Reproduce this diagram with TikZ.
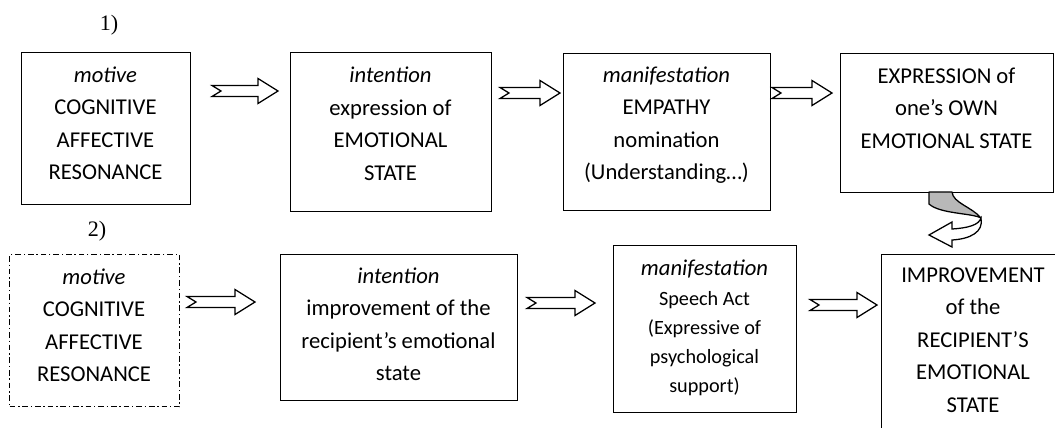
\documentclass[tikz,border=0pt]{standalone}
\usepackage{fontspec}
\setmainfont{Carlito}
\newfontfamily\timesf{Liberation Serif}
\usetikzlibrary{calc}
\newcommand\blockarrow[2]{%
  \draw[barrow] ($(#1)+(0,-5.5)$) -- ($(#2)+(-20,-5.5)$) -- ($(#2)+(-20,-12.5)$) -- (#2)
    -- ($(#2)+(-20,12.5)$) -- ($(#2)+(-20,5.5)$) -- ($(#1)+(0,5.5)$) -- ($(#1)+(9,0)$) -- cycle;}
\begin{document}
\begin{tikzpicture}[x=0.025cm,y=-0.025cm,
  box/.style={draw, line width=1pt, rectangle, inner sep=0pt, anchor=north west},
  dbox/.style={box, dash pattern=on 4pt off 2pt on 1pt off 2pt},
  txt/.style={align=center, anchor=base, inner sep=0pt, font=\fontsize{16.1}{23.1}\selectfont},
  stxt/.style={align=center, anchor=base, inner sep=0pt, font=\fontsize{14.4}{20.6}\selectfont},
  barrow/.style={draw, line width=0.9pt, fill=white, line join=miter},
  lbl/.style={font=\timesf\fontsize{15.7}{18}\selectfont, anchor=base, inner sep=0pt}]
\useasboundingbox (0,0) rectangle (1055,428);
\clip (0,0) rectangle (1055,428);
% labels
\node[lbl] (l1) at (109,30) {1)};
\node[lbl] (l2) at (97,236) {2)};
% row 1 boxes
\node[box, minimum width=4.225cm, minimum height=3.8cm] (b1) at (21,52) {};
\node[box, minimum width=5.025cm, minimum height=3.975cm] (b2) at (290,52) {};
\node[box, minimum width=5.175cm, minimum height=3.925cm] (b3) at (563,53) {};
\node[box, minimum width=5.325cm, minimum height=3.475cm] (b4) at (840,53) {};
% (anchor base = baseline of the last line)
\node[txt] (t1) at (105.5,179.5) {\textit{motive}\\COGNITIVE\\AFFECTIVE\\RESONANCE};
\node[txt] (t2) at (390.5,180) {\textit{intention}\\expression of\\EMOTIONAL\\STATE};
\node[txt] (t3) at (666.5,179.5) {\textit{manifestation}\\EMPATHY\\nomination\\(Understanding…)};
\node[txt] (t4) at (946.5,148) {EXPRESSION of\\one’s OWN\\EMOTIONAL STATE};
% row 2 boxes
\node[dbox, minimum width=4.25cm, minimum height=3.8cm] (c1) at (9,254) {};
\node[box, minimum width=5.925cm, minimum height=3.65cm] (c2) at (280,254) {};
\node[box, minimum width=4.575cm, minimum height=4.175cm] (c3) at (613,245) {};
\node[box, minimum width=5cm, minimum height=5cm] (c4) at (881,254) {};
\node[txt] (u1) at (94,381.5) {\textit{motive}\\COGNITIVE\\AFFECTIVE\\RESONANCE};
\node[txt] (u2) at (398.5,380.5) {\textit{intention}\\improvement of the\\recipient’s emotional\\state};
\node[txt] (u3h) at (704.5,275) {\textit{manifestation}};
\node[stxt] (u3) at (704.5,392) {Speech Act\\(Expressive of\\psychological\\support)};
\node[txt] (u4) at (973,412) {IMPROVEMENT\\of the\\RECIPIENT’S\\EMOTIONAL\\STATE};
% arrow end points
\coordinate (a1s) at (212,91);  \coordinate (a1e) at (278,91);
\coordinate (a2s) at (500,93);  \coordinate (a2e) at (560,93);
\coordinate (a3s) at (772,93);  \coordinate (a3e) at (832,93);
\coordinate (a4s) at (187,302); \coordinate (a4e) at (255,302);
\coordinate (a5s) at (527,303); \coordinate (a5e) at (595,303);
\coordinate (a6s) at (810,305); \coordinate (a6e) at (877,305);
\blockarrow{a1s}{a1e}
\blockarrow{a2s}{a2e}
\blockarrow{a3s}{a3e}
\blockarrow{a4s}{a4e}
\blockarrow{a5s}{a5e}
\blockarrow{a6s}{a6e}
% curved U-turn arrow from b4 down
\draw[fill=black!28, line width=0.9pt, line join=round] (929,192) -- (952,192)
  .. controls (953,203) and (972,207) .. (981,218)
  .. controls (972,213) and (940,214) .. (929,204) -- cycle;
\draw[fill=white, line width=0.9pt, line join=miter] (981,218)
  .. controls (984,232) and (970,239) .. (952,240) -- (952,247) -- (929,235) -- (952,222) -- (952,229)
  .. controls (968,228) and (979,225) .. (981,218) -- cycle;
\end{tikzpicture}
\end{document}
